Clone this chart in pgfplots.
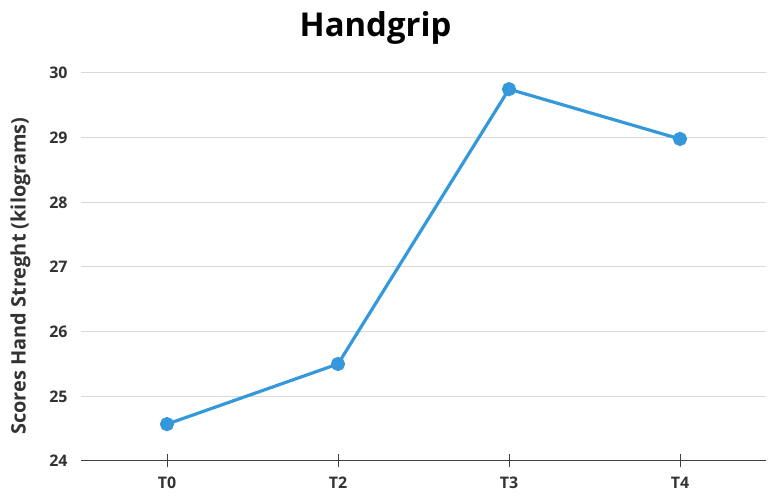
\documentclass[border=0pt]{standalone}
\usepackage{fontspec}
\setmainfont{Open Sans}
\usepackage{pgfplots}
\pgfplotsset{compat=1.18}
\definecolor{lineblue}{HTML}{3498DB}
\definecolor{gridgray}{HTML}{D9D9D9}
\definecolor{txt}{HTML}{333333}
\begin{document}
\begin{tikzpicture}[x=1bp,y=1bp]
\begin{axis}[
    scale only axis,
    width=684bp, height=388bp,
    xmin=-0.5, xmax=3.5,
    ymin=24, ymax=30,
    xtick={0,1,2,3},
    xticklabels={T0,T2,T3,T4},
    ytick={24,25,...,30},
    axis lines*=left,
    y axis line style={draw=none},
    ytick style={draw=none},
    x axis line style={color=black!75, line width=1pt, -},
    xtick style={color=black!75, line width=1pt},
    major tick length=13bp,
    tick align=center,
    ymajorgrids=true,
    grid style={gridgray, line width=1pt},
    ticklabel style={font=\fontsize{16}{18}\selectfont\bfseries, text=txt},
    /pgf/number format/assume math mode=true,
    xticklabel style={yshift=-6bp},
    yticklabel style={xshift=-4bp},
    ylabel={Scores Hand Streght (kilograms)},
    ylabel style={font=\fontsize{20}{22}\selectfont\bfseries, text=txt, yshift=12bp, xshift=-9bp},
    title={Handgrip},
    title style={font=\fontsize{33}{38}\selectfont\bfseries, yshift=19bp, xshift=-48bp},
    clip=false,
]
\addplot[lineblue, line width=3.2pt, mark=*, mark size=5.5pt, mark options={fill=lineblue, draw=lineblue}]
  coordinates {(0,24.57) (1,25.5) (2,29.75) (3,28.98)};
\coordinate (bl) at (rel axis cs:0,0);
\coordinate (tr) at (rel axis cs:1,1);
\end{axis}
\pgfresetboundingbox
\path ([shift={(-81.5bp,-43bp)}]bl) rectangle ([shift={(5.5bp,73bp)}]tr);
\end{tikzpicture}
\end{document}
